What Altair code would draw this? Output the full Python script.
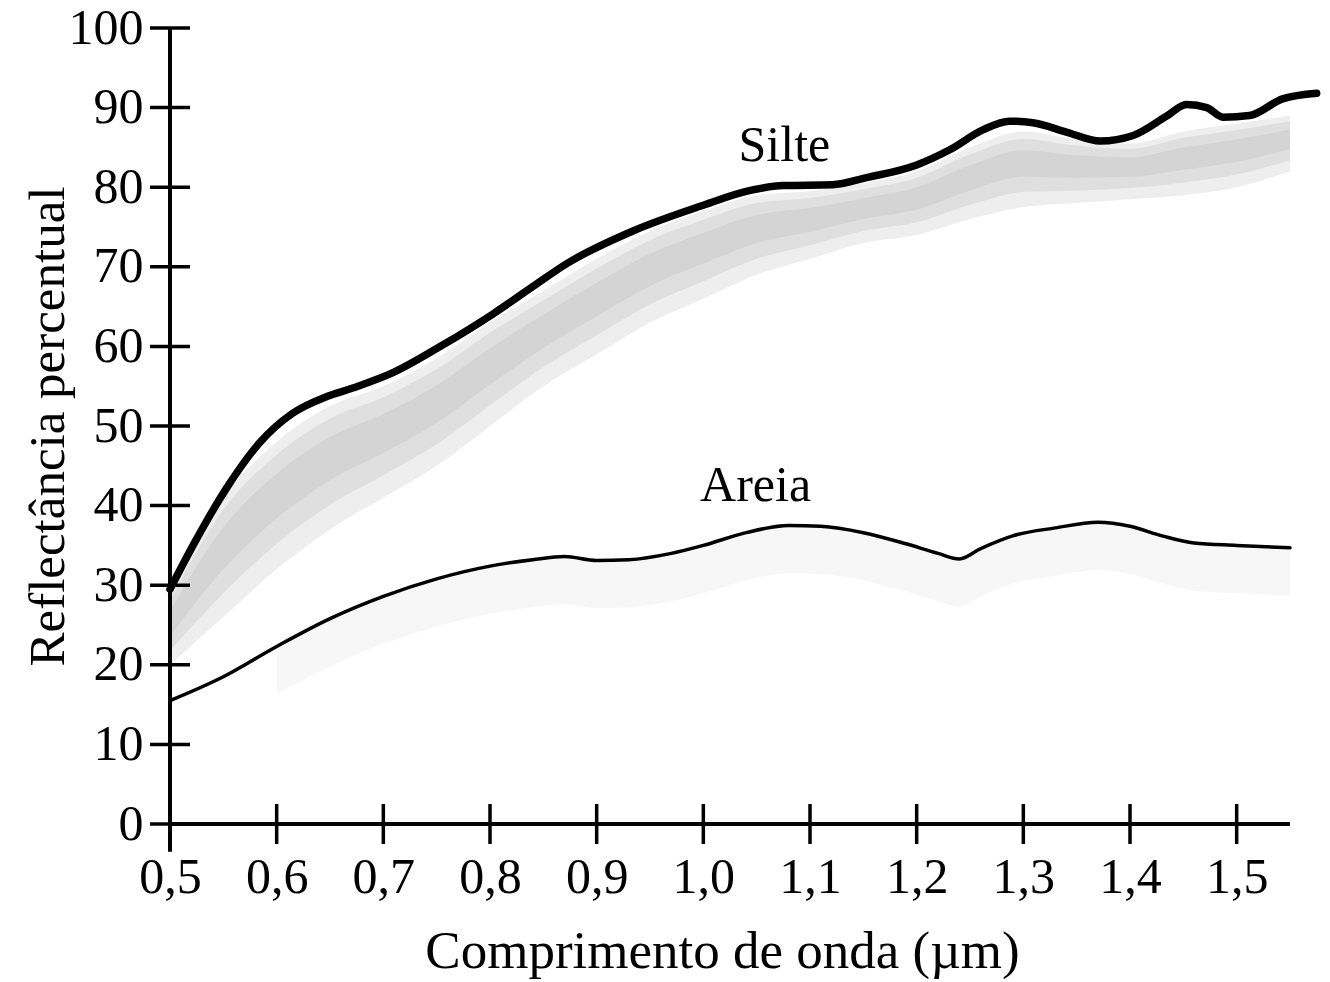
import altair as alt
import pandas as pd

# ---- data ----
silte_x = [0.500, 0.522, 0.553, 0.584, 0.615, 0.647, 0.672, 0.709, 0.756, 0.803, 0.840,
           0.872, 0.934, 0.997, 1.044, 1.075, 1.121, 1.153, 1.200, 1.231, 1.262, 1.287,
           1.309, 1.341, 1.372, 1.403, 1.434, 1.453, 1.472, 1.487, 1.512, 1.543, 1.575]
silte_y = [29.5, 35.1, 42.2, 47.9, 51.6, 53.7, 54.8, 56.7, 60.2, 64.1, 67.5,
           70.4, 74.5, 77.6, 79.6, 80.2, 80.3, 81.2, 82.8, 84.7, 87.2, 88.3,
           88.1, 86.9, 85.8, 86.5, 88.9, 90.4, 90.0, 88.8, 89.0, 91.1, 91.8]

areia_x = [0.50, 0.55, 0.60, 0.65, 0.70, 0.75, 0.80, 0.84, 0.87, 0.90, 0.93, 0.97,
           1.00, 1.04, 1.08, 1.11, 1.15, 1.19, 1.22, 1.24, 1.26, 1.29, 1.33, 1.37,
           1.40, 1.43, 1.46, 1.50, 1.55]
areia_y = [15.5, 18.5, 22.3, 25.8, 28.6, 30.8, 32.4, 33.2, 33.6, 33.1, 33.2, 34.0,
           35.0, 36.6, 37.5, 37.4, 36.6, 35.2, 34.0, 33.3, 34.6, 36.2, 37.2, 37.9,
           37.4, 36.2, 35.3, 35.0, 34.7]

band_x = [0.50, 0.55, 0.60, 0.65, 0.70, 0.75, 0.80, 0.85, 0.90, 0.95, 1.00, 1.05,
          1.10, 1.15, 1.20, 1.25, 1.30, 1.35, 1.40, 1.45, 1.50, 1.55]
band_hi = [29, 41, 48, 52.5, 55, 58.5, 63, 67, 71, 74.5, 77, 79,
           79.5, 80.5, 82, 85, 87, 86, 85.5, 87, 88, 89]
band_lo = [20, 26, 32, 37, 41, 45, 50, 55, 59, 63, 66, 69,
           71, 73, 74, 76, 77.5, 78, 78.5, 79, 80, 82]

x_ticks = [0.5, 0.6, 0.7, 0.8, 0.9, 1.0, 1.1, 1.2, 1.3, 1.4, 1.5]
y_ticks = [0, 10, 20, 30, 40, 50, 60, 70, 80, 90, 100]

label_text = ["Silte", "Areia"]
label_x = [1.076, 1.049]
label_y = [83.3, 40.6]

x_axis_extent = [0.5, 1.55]
y_axis_extent = [-3.5, 100]

FONT = "Liberation Serif"

silte = pd.DataFrame({"x": silte_x, "y": silte_y})
areia = pd.DataFrame({"x": areia_x, "y": areia_y})
band = pd.DataFrame({"x": band_x, "hi": band_hi, "lo": band_lo})
labels = pd.DataFrame({"t": label_text, "x": label_x, "y": label_y})
xt = pd.DataFrame({"x": x_ticks, "y": [0] * len(x_ticks)})
yt = pd.DataFrame({"y": y_ticks, "x": [0.5] * len(y_ticks)})
xax = pd.DataFrame({"x": [x_axis_extent[0]], "x2": [x_axis_extent[1]], "y": [0]})
yax = pd.DataFrame({"y": [y_axis_extent[0]], "y2": [y_axis_extent[1]], "x": [0.5]})

xs = alt.Scale(domain=[0.5, 1.58], nice=False, zero=False)
ys = alt.Scale(domain=[0, 100], nice=False, zero=False)

xaxis = alt.Axis(
    values=x_ticks, ticks=False, domain=False, grid=False,
    labelExpr="replace(format(datum.value, '.1f'), '.', ',')",
    labelFont=FONT, labelFontSize=50, labelColor="black", labelPadding=28,
    labelFlush=False,
    title="Comprimento de onda (µm)", titleFont=FONT, titleFontSize=53,
    titleFontWeight="normal", titleColor="black", titleX=552, titleY=143,
    titleBaseline="alphabetic", titleAlign="center",
)
yaxis = alt.Axis(
    values=y_ticks, ticks=False, domain=False, grid=False,
    labelFont=FONT, labelFontSize=50, labelColor="black", labelPadding=27,
    labelFlush=False,
    title="Reflectância percentual", titleFont=FONT, titleFontSize=51,
    titleFontWeight="normal", titleColor="black", titleAngle=270,
    titleX=-107, titleY=398, titleBaseline="alphabetic", titleAlign="center",
)

base_band = alt.Chart(band)
band_outer = base_band.mark_area(color="#8a8a8a", opacity=0.15, interpolate="monotone").encode(
    x=alt.X("x:Q", scale=xs, axis=xaxis), y=alt.Y("lo:Q", scale=ys, axis=yaxis), y2="hi:Q")
band_mid = base_band.transform_calculate(
    a="datum.lo + 0.2*(datum.hi-datum.lo)", b="datum.hi - 0.1*(datum.hi-datum.lo)"
).mark_area(color="#8a8a8a", opacity=0.15, interpolate="monotone").encode(
    x=alt.X("x:Q", scale=xs), y=alt.Y("a:Q", scale=ys), y2="b:Q")
band_core = base_band.transform_calculate(
    a="datum.lo + 0.4*(datum.hi-datum.lo)", b="datum.hi - 0.25*(datum.hi-datum.lo)"
).mark_area(color="#8a8a8a", opacity=0.13, interpolate="monotone").encode(
    x=alt.X("x:Q", scale=xs), y=alt.Y("a:Q", scale=ys), y2="b:Q")

areia_shade = alt.Chart(areia).transform_filter("datum.x >= 0.6").transform_calculate(
    a="datum.y - 6").mark_area(color="#9a9a9a", opacity=0.08, interpolate="monotone").encode(
    x=alt.X("x:Q", scale=xs), y=alt.Y("a:Q", scale=ys), y2="y:Q")

silte_line = alt.Chart(silte).mark_line(color="black", strokeWidth=7.5, interpolate="monotone",
                                        strokeCap="round").encode(
    x=alt.X("x:Q", scale=xs), y=alt.Y("y:Q", scale=ys))
areia_line = alt.Chart(areia).mark_line(color="black", strokeWidth=3.5, interpolate="monotone",
                                        strokeCap="round").encode(
    x=alt.X("x:Q", scale=xs), y=alt.Y("y:Q", scale=ys))

x_axis_line = alt.Chart(xax).mark_rule(color="black", strokeWidth=4).encode(
    x=alt.X("x:Q", scale=xs), x2="x2:Q", y=alt.Y("y:Q", scale=ys))
y_axis_line = alt.Chart(yax).mark_rule(color="black", strokeWidth=4).encode(
    x=alt.X("x:Q", scale=xs), y=alt.Y("y:Q", scale=ys), y2="y2:Q")

x_tick_marks = alt.Chart(xt).mark_tick(orient="vertical", size=40, thickness=3.5,
                                       color="black", opacity=1).encode(
    x=alt.X("x:Q", scale=xs), y=alt.Y("y:Q", scale=ys))
y_tick_marks = alt.Chart(yt).mark_tick(orient="horizontal", size=40, thickness=3.5,
                                       color="black", opacity=1).encode(
    x=alt.X("x:Q", scale=xs), y=alt.Y("y:Q", scale=ys))

text = alt.Chart(labels).mark_text(font=FONT, fontSize=50, color="black",
                                   baseline="alphabetic", align="center").encode(
    x=alt.X("x:Q", scale=xs), y=alt.Y("y:Q", scale=ys), text="t:N")

chart = alt.layer(
    band_outer, band_mid, band_core, areia_shade,
    silte_line, areia_line, x_axis_line, y_axis_line, x_tick_marks, y_tick_marks, text
).properties(
    width=1152, height=796,
    padding={"left": 170, "top": 28, "right": 8, "bottom": 158},
    autosize=alt.AutoSizeParams(type="none"),
    background="white",
).configure_view(stroke=None)

chart.save("out.html", embed_options={"renderer": "svg", "actions": False})
